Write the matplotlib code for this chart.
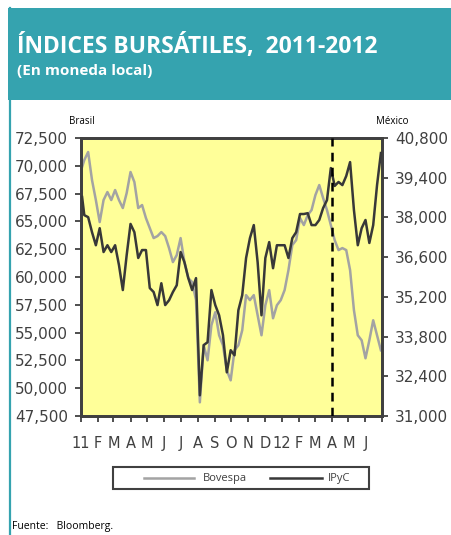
import matplotlib
matplotlib.use('Agg')
import matplotlib.pyplot as plt
import pandas as pd
from matplotlib.patches import Rectangle
from matplotlib.lines import Line2D
from matplotlib.ticker import FuncFormatter

# ---- data ----
dates = [pd.Timestamp('2011-01-03')] + list(pd.date_range('2011-01-07', '2012-06-29', freq='7D'))

bovespa = [69890, 70520, 71240, 68720, 66920, 64940, 66920, 67640, 66920, 67820,
           66920, 66200, 67550, 69440, 68540, 66200, 66470, 65300, 64400, 63500,
           63680, 64040, 63680, 62600, 61340, 61970, 63500, 61340, 59900, 59540,
           57920, 48730, 53860, 52510, 55660, 56830, 54760, 53860, 51610, 50710,
           53410, 53860, 55210, 58370, 57920, 58370, 56560, 54760, 57460, 58820,
           56290, 57460, 57920, 58820, 60620, 62870, 63320, 65300, 64670, 65570,
           66020, 67370, 68270, 67100, 66020, 64670, 63320, 62420, 62600, 62420,
           60620, 57020, 54760, 54310, 52690, 54310, 56110, 54760, 53410]

ipyc = [38720, 38080, 38010, 37480, 37020, 37620, 36780, 37020, 36780, 37020,
        36320, 35440, 36670, 37770, 37480, 36570, 36850, 36850, 35510, 35370,
        34910, 35680, 34910, 35080, 35370, 35610, 36780, 36420, 35860, 35440,
        35860, 31730, 33500, 33600, 35440, 34910, 34550, 33850, 32540, 33320,
        33140, 34730, 35260, 36570, 37270, 37730, 36420, 34550, 36570, 37130,
        36210, 37020, 37020, 37020, 36570, 37270, 37480, 38120, 38120, 38150,
        37730, 37730, 37910, 38330, 38610, 39740, 39110, 39250, 39140, 39460,
        39950, 38260, 37020, 37620, 37910, 37100, 37730, 39140, 40270]

series_names = ['Bovespa', 'IPyC']
month_labels = ['11', 'F', 'M', 'A', 'M', 'J', 'J', 'A', 'S', 'O', 'N', 'D',
                '12', 'F', 'M', 'A', 'M', 'J', '']
left_ticks = list(range(47500, 72501, 2500))
right_ticks = list(range(31000, 40801, 1400))
event_date = pd.Timestamp('2012-04-01')

# ---- style ----
W, H = 451, 535
teal = '#35A3AF'
dark = '#404040'
gray_c = '#A3A3A3'
black_c = '#383838'
fig = plt.figure(figsize=(W / 100, H / 100), dpi=100)
fig.patch.set_facecolor('white')

def fx(px):
    return px / W

def fy(py):
    return 1 - py / H

# header band and left border
fig.patches.append(Rectangle((fx(8), fy(100)), 1 - fx(8), 92 / H,
                             transform=fig.transFigure, facecolor=teal,
                             edgecolor='none', zorder=0))
fig.add_artist(Line2D([fx(9.5), fx(9.5)], [0, fy(8)], transform=fig.transFigure,
                      color=teal, lw=1.6))

fig.text(fx(17), fy(46), 'ÍNDICES BURSÁTILES,  2011-2012', color='white',
         fontsize=16.5, fontweight='bold', family='Open Sans', va='center', ha='left')
fig.text(fx(17), fy(71), '(En moneda local)', color='white',
         fontsize=11, fontweight='bold', family='Open Sans', va='center', ha='left')

fig.text(fx(82), fy(121), 'Brasil', fontsize=7, family='Open Sans',
         color='black', ha='center', va='center')
fig.text(fx(392), fy(121), 'México', fontsize=7, family='Open Sans',
         color='black', ha='center', va='center')
fig.text(fx(12), fy(527), 'Fuente:   Bloomberg.', fontsize=7.5, family='Open Sans',
         color='black', ha='left', va='center')

ax = fig.add_axes([fx(81), fy(416), 301 / W, 278 / H])
ax.set_facecolor('#FFFF99')
ax2 = ax.twinx()

ax.plot(dates, bovespa, color=gray_c, lw=1.8, zorder=2)
ax2.plot(dates, ipyc, color=black_c, lw=1.8, zorder=3)
ax2.axvline(event_date, color='black', lw=1.8, ls=(0, (3.5, 2.5)), zorder=4)

ax.set_xlim(pd.Timestamp('2011-01-01'), pd.Timestamp('2012-07-01'))
ax.set_ylim(47500, 72500)
ax2.set_ylim(31000, 40800)
ax.set_yticks(left_ticks)
ax2.set_yticks(right_ticks)
fmt = FuncFormatter(lambda v, p: f'{int(v):,}')
ax.yaxis.set_major_formatter(fmt)
ax2.yaxis.set_major_formatter(fmt)

month_ticks = pd.date_range('2011-01-01', '2012-07-01', freq='MS')
ax.set_xticks(month_ticks)
ax.set_xticklabels(month_labels)

for a in (ax, ax2):
    for s in a.spines.values():
        s.set_linewidth(2)
        s.set_color(dark)
    a.tick_params(axis='both', direction='out', length=4.5, width=1.3, color=dark,
                  labelcolor=dark, labelsize=11)
ax.tick_params(axis='x', pad=10, labelsize=10.5)
ax.tick_params(axis='y', pad=5)
ax2.tick_params(axis='y', pad=5)

# legend box (drawn in figure coordinates)
fig.patches.append(Rectangle((fx(113), fy(489)), (369 - 113) / W, 22 / H,
                             transform=fig.transFigure, facecolor='white',
                             edgecolor=dark, lw=1.5))
fig.add_artist(Line2D([fx(144), fx(194)], [fy(478), fy(478)], transform=fig.transFigure,
                      color=gray_c, lw=1.8))
fig.text(fx(203), fy(478.5), series_names[0], fontsize=8, family='Open Sans',
         color=dark, ha='left', va='center')
fig.add_artist(Line2D([fx(270), fx(322)], [fy(478), fy(478)], transform=fig.transFigure,
                      color=black_c, lw=1.8))
fig.text(fx(328), fy(478.5), series_names[1], fontsize=8, family='Open Sans',
         color=dark, ha='left', va='center')

fig.savefig('out.png', dpi=100)
